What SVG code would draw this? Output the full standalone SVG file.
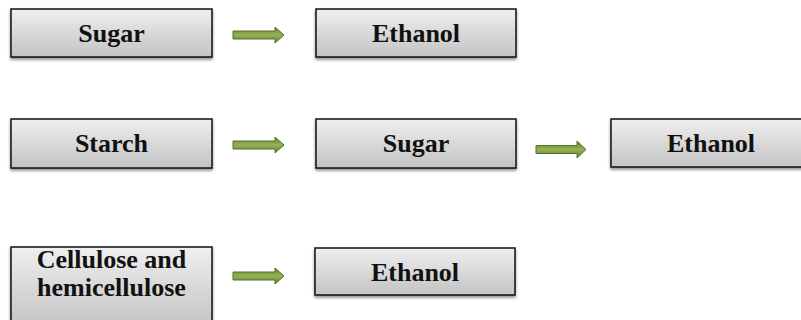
<svg xmlns="http://www.w3.org/2000/svg" width="801" height="320" viewBox="0 0 801 320">
<defs>
<linearGradient id="boxg" x1="0" y1="0" x2="0" y2="1">
<stop offset="0" stop-color="#efefef"/>
<stop offset="1" stop-color="#c3c3c3"/>
</linearGradient>
<linearGradient id="arrg" x1="0" y1="0" x2="0" y2="1">
<stop offset="0" stop-color="#667f2c"/>
<stop offset="0.5" stop-color="#94b255"/>
<stop offset="1" stop-color="#667f2c"/>
</linearGradient>
<filter id="sh" x="-5%" y="-20%" width="110%" height="150%">
<feDropShadow dx="0" dy="2" stdDeviation="1.5" flood-color="#000" flood-opacity="0.45"/>
</filter>
</defs>
<style>
.box{fill:url(#boxg);stroke:#111;stroke-width:1.5;filter:url(#sh)}
.t{font-family:"Liberation Serif","Times New Roman",serif;font-weight:bold;font-size:26px;fill:#111;text-anchor:middle}
.arr{fill:url(#arrg);stroke:#55702a;stroke-width:1}
</style>
<rect width="801" height="320" fill="#fff"/>
<g id="n-sugar1"><rect class="box" x="11" y="9" width="201" height="48"/><text class="t" x="111.5" y="42">Sugar</text></g>
<g id="n-ethanol1"><rect class="box" x="316" y="9" width="200" height="48"/><text class="t" x="416" y="42">Ethanol</text></g>
<g id="n-starch"><rect class="box" x="11" y="119" width="201" height="49"/><text class="t" x="111.5" y="152">Starch</text></g>
<g id="n-sugar2"><rect class="box" x="316" y="119" width="200" height="49"/><text class="t" x="416" y="152">Sugar</text></g>
<g id="n-ethanol2"><rect class="box" x="611" y="119" width="201" height="48"/><text class="t" x="711" y="152">Ethanol</text></g>
<g id="n-cellulose"><rect class="box" x="11" y="247" width="201" height="80"/><text class="t" x="111.5" y="268">Cellulose and</text><text class="t" x="111.5" y="296">hemicellulose</text></g>
<g id="n-ethanol3"><rect class="box" x="315" y="248" width="200" height="47"/><text class="t" x="415" y="281">Ethanol</text></g>
<g id="connectors">
<path class="arr" d="M233,31 H275 V27 L284,35 L275,43 V39 H233 Z"/>
<path class="arr" d="M233,141 H275 V137 L284,145 L275,153 V149 H233 Z"/>
<path class="arr" d="M536,145.5 H577 V141 L586,149.5 L577,158 V153.5 H536 Z"/>
<path class="arr" d="M233,272 H275 V268 L284,276 L275,284 V280 H233 Z"/>
</g>
</svg>
